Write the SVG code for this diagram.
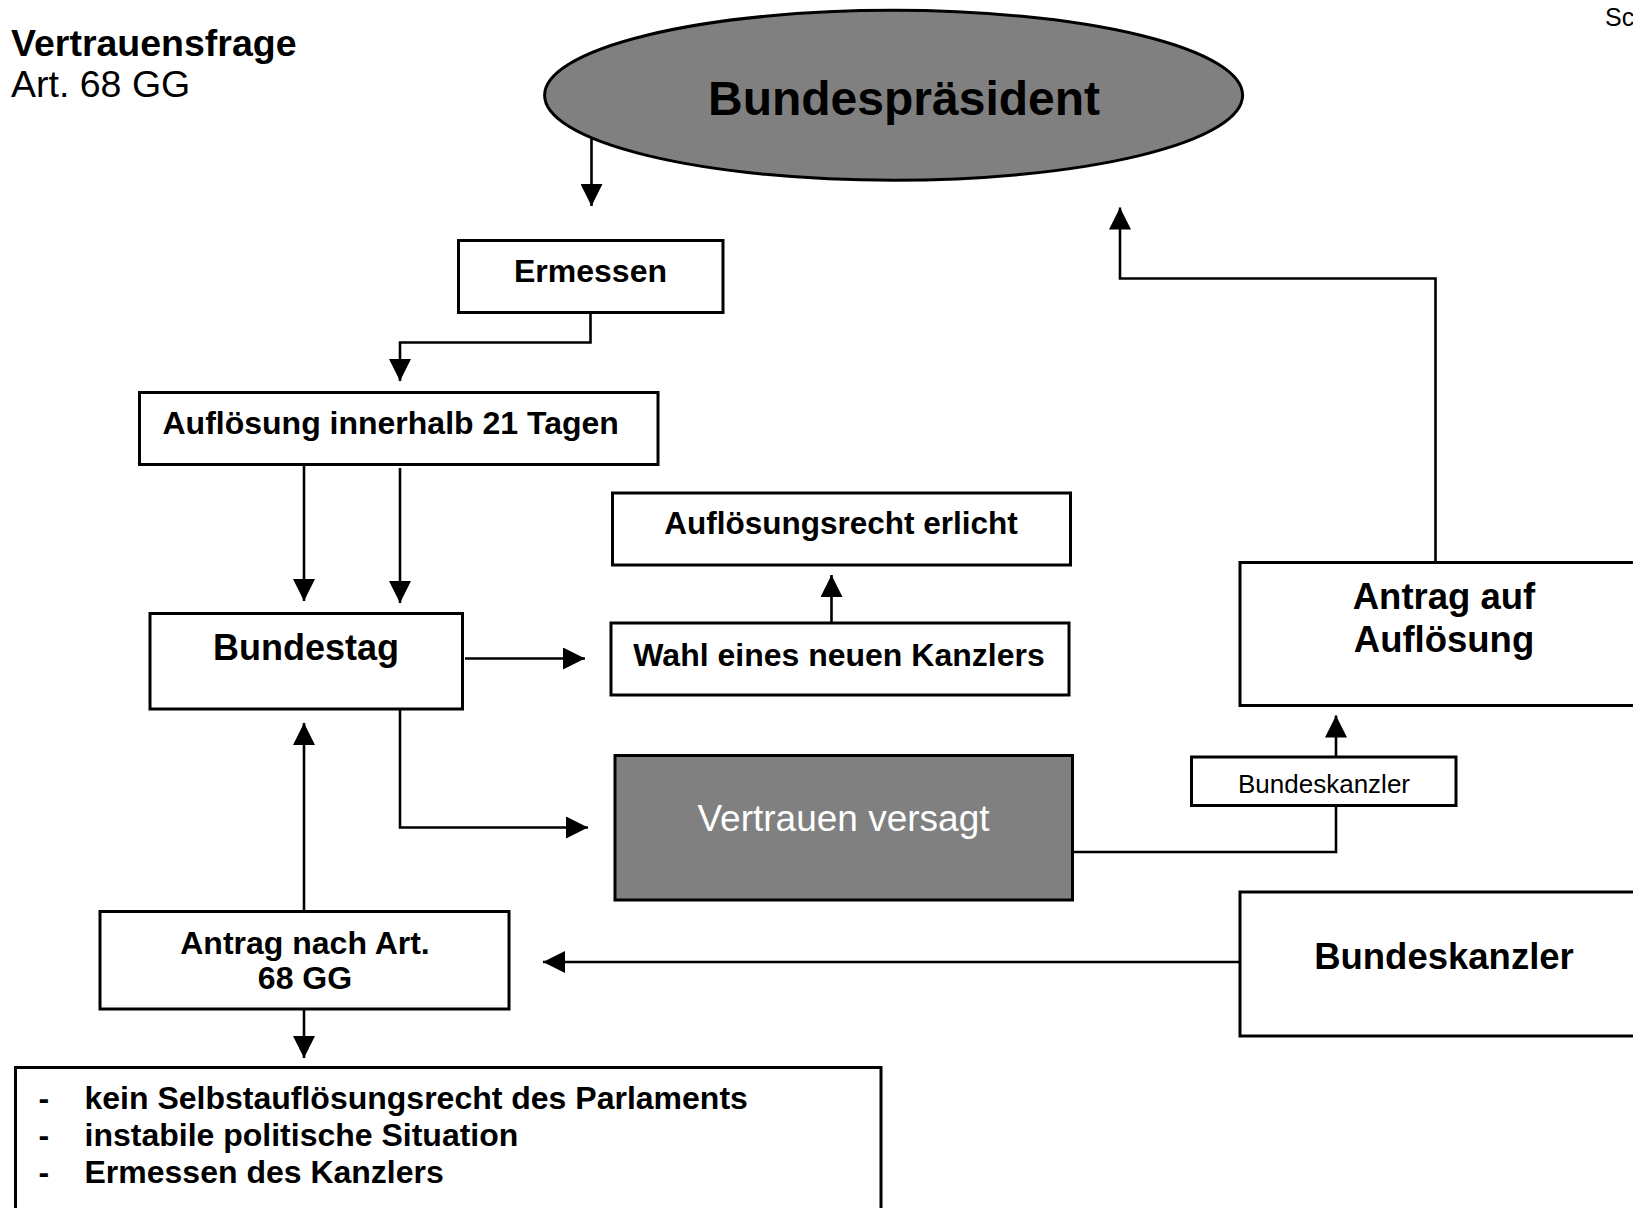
<svg xmlns="http://www.w3.org/2000/svg" width="1633" height="1208" viewBox="0 0 1633 1208">
<style>
.box{fill:#fff;stroke:#000;stroke-width:3}
.dark{fill:#808080;stroke:#000;stroke-width:3}
.t{font-family:"Liberation Sans",Arial,sans-serif;fill:#000}
.b{font-weight:bold}
.c{text-anchor:middle}
.con{fill:none;stroke:#000;stroke-width:2.6}
</style>
<defs>
<marker id="ah" viewBox="0 0 22 22" refX="22" refY="11" markerWidth="22" markerHeight="22" markerUnits="userSpaceOnUse" orient="auto">
<path d="M0,0 L22,11 L0,22 z" fill="#000"/>
</marker>
</defs>
<rect width="1633" height="1208" fill="#fff"/>

<g id="title">
<text class="t b" x="11" y="56" font-size="37.5">Vertrauensfrage</text>
<text class="t" x="11" y="97" font-size="37.5">Art. 68 GG</text>
<text class="t" x="1605" y="26" font-size="25">Sc</text>
</g>

<g id="connectors">
<path class="con" d="M591.5,137 V206" marker-end="url(#ah)"/>
<path class="con" d="M590.5,312 V342.5 H400 V381" marker-end="url(#ah)"/>
<path class="con" d="M304,464.5 V601" marker-end="url(#ah)"/>
<path class="con" d="M400,468 V603" marker-end="url(#ah)"/>
<path class="con" d="M465,658.5 H585" marker-end="url(#ah)"/>
<path class="con" d="M831.5,623 V575" marker-end="url(#ah)"/>
<path class="con" d="M400,709 V827.5 H588" marker-end="url(#ah)"/>
<path class="con" d="M304,911.5 V723" marker-end="url(#ah)"/>
<path class="con" d="M304,1009 V1058" marker-end="url(#ah)"/>
<path class="con" d="M1240,962 H543" marker-end="url(#ah)"/>
<path class="con" d="M1073,852 H1336 V805.5"/>
<path class="con" d="M1336,757 V715.5" marker-end="url(#ah)"/>
<path class="con" d="M1435.5,561 V278.5 H1120 V207.5" marker-end="url(#ah)"/>
</g>

<g id="bundespraesident">
<ellipse class="dark" cx="893.6" cy="95.3" rx="349" ry="85"/>
<text class="t b c" x="904" y="114.5" font-size="48">Bundespräsident</text>
</g>

<g id="ermessen">
<rect class="box" x="458.5" y="240.5" width="264.5" height="72"/>
<text class="t b c" x="590.5" y="282" font-size="32">Ermessen</text>
</g>

<g id="aufloesung21">
<rect class="box" x="139.5" y="392.5" width="518.5" height="72"/>
<text class="t b" x="162.5" y="434" font-size="32">Auflösung innerhalb 21 Tagen</text>
</g>

<g id="bundestag">
<rect class="box" x="150" y="613.5" width="312.5" height="95.5"/>
<text class="t b c" x="306" y="660" font-size="36">Bundestag</text>
</g>

<g id="aufloesungsrecht">
<rect class="box" x="612.5" y="493" width="458" height="72"/>
<text class="t b c" x="841" y="533.5" font-size="31.5">Auflösungsrecht erlicht</text>
</g>

<g id="wahl">
<rect class="box" x="611" y="623" width="458" height="72"/>
<text class="t b c" x="839" y="665.5" font-size="32">Wahl eines neuen Kanzlers</text>
</g>

<g id="vertrauen-versagt">
<rect class="dark" x="615" y="755.5" width="457.5" height="144.5"/>
<text class="t c" x="843.5" y="830.5" font-size="37" style="fill:#fff">Vertrauen versagt</text>
</g>

<g id="antrag-art68">
<rect class="box" x="100" y="911.5" width="409" height="97.5"/>
<text class="t b c" x="305" y="954" font-size="32">Antrag nach Art.</text>
<text class="t b c" x="305" y="988.5" font-size="32">68 GG</text>
</g>

<g id="antrag-aufloesung">
<rect class="box" x="1240" y="562.5" width="410" height="143"/>
<text class="t b c" x="1444" y="608.5" font-size="36.5">Antrag auf</text>
<text class="t b c" x="1444" y="652" font-size="36.5">Auflösung</text>
</g>

<g id="bundeskanzler-klein">
<rect class="box" x="1191.5" y="757" width="264.5" height="48.5"/>
<text class="t c" x="1324" y="792.5" font-size="26">Bundeskanzler</text>
</g>

<g id="bundeskanzler">
<rect class="box" x="1240" y="892" width="410" height="144"/>
<text class="t b c" x="1444" y="968.5" font-size="36.5">Bundeskanzler</text>
</g>

<g id="gruende">
<rect class="box" x="15.5" y="1067.5" width="865.5" height="160"/>
<text class="t b" x="38.5" y="1109" font-size="32">-</text>
<text class="t b" x="84.5" y="1109" font-size="32">kein Selbstauflösungsrecht des Parlaments</text>
<text class="t b" x="38.5" y="1146" font-size="32">-</text>
<text class="t b" x="84.5" y="1146" font-size="32">instabile politische Situation</text>
<text class="t b" x="38.5" y="1183" font-size="32">-</text>
<text class="t b" x="84.5" y="1183" font-size="32">Ermessen des Kanzlers</text>
</g>
</svg>
